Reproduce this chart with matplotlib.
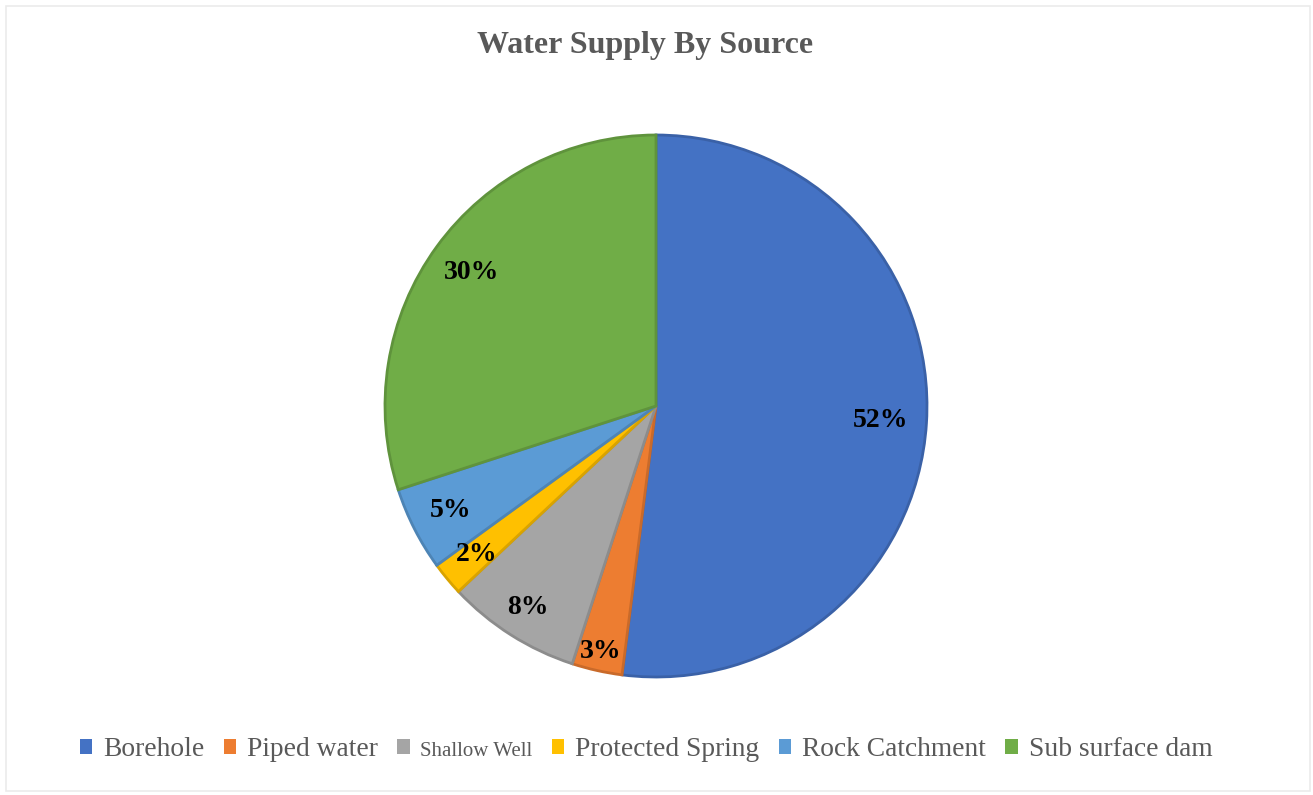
import matplotlib
matplotlib.use("Agg")
import matplotlib.pyplot as plt
import matplotlib.colors as mcolors
from matplotlib.patches import Rectangle
import numpy as np

categories = ["Borehole", "Piped water", "Shallow Well", "Protected Spring", "Rock Catchment", "Sub surface dam"]
values = [52, 3, 8, 2, 5, 30]
colors = ["#4472C4", "#ED7D31", "#A5A5A5", "#FFC000", "#5B9BD5", "#70AD47"]
label_radius = [0.83, 0.93, 0.88, 0.86, 0.85, 0.84]

W, H = 1313, 795
fig = plt.figure(figsize=(W / 100, H / 100), dpi=100)
serif = ["Liberation Serif", "DejaVu Serif"]

# outer frame
fig.patches.append(Rectangle((6 / W, 4 / H), (1310 - 6) / W, (H - 4 - 6) / H,
                             transform=fig.transFigure, fill=False,
                             edgecolor="#ebebeb", linewidth=1.2))

cx, cy, r = 656, H - 406, 271
ax = fig.add_axes([(cx - r) / W, (cy - r) / H, 2 * r / W, 2 * r / H])

def darker(c, f=0.85):
    rgb = np.array(mcolors.to_rgb(c))
    return tuple(rgb * f)

wedges, _ = ax.pie(values, colors=colors, startangle=90, counterclock=False,
                   radius=1.0, wedgeprops=dict(linewidth=2.0))
for w, c in zip(wedges, colors):
    w.set_edgecolor(darker(c))

total = sum(values)
for w, v, lr in zip(wedges, values, label_radius):
    ang = np.deg2rad((w.theta1 + w.theta2) / 2)
    ax.text(lr * np.cos(ang), lr * np.sin(ang), f"{round(100 * v / total)}%",
            ha="center", va="center", fontsize=20, fontweight="bold",
            family=serif, color="black")
ax.set_xlim(-1, 1)
ax.set_ylim(-1, 1)
ax.set_aspect("equal")
ax.axis("off")

fig.text(645 / W, 1 - 46 / H, "Water Supply By Source", ha="center", va="center",
         fontsize=23, fontweight="bold", family=serif, color="#595959")

handles = [Rectangle((0, 0), 1, 1, facecolor=c, edgecolor="none") for c in colors]
leg = fig.legend(handles, categories, loc="center", bbox_to_anchor=(646 / W, 1 - 750 / H),
                 ncol=6, frameon=False, handlelength=0.45, handleheight=0.45,
                 handletextpad=0.4, columnspacing=0.7,
                 prop={"family": serif, "size": 19.8})
for t, name in zip(leg.get_texts(), categories):
    t.set_color("#595959")
    if name == "Shallow Well":
        t.set_fontsize(15)

fig.savefig("out.png", dpi=100, facecolor="white")
